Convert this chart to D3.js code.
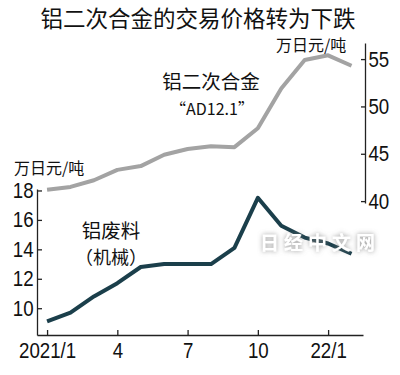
<!DOCTYPE html>
<html>
<head>
<meta charset="utf-8">
<script src="https://cdn.jsdelivr.net/npm/d3@7"></script>
<style>
	body { margin: 0; background: #fff; }
	.cjk { font-family: "Noto Sans CJK SC", "Noto Sans", sans-serif; fill: #111; }
	.axis text { font-family: "Liberation Sans", sans-serif; font-size: 22px; fill: #111; }
	.axis path, .axis line { stroke: #222; stroke-width: 1.3; }
</style>
</head>
<body>
<svg id="chart" width="400" height="375"></svg>
<script>
//months from 2021/1 to 2022/2
var months = ["2021/1","2021/2","2021/3","2021/4","2021/5","2021/6","2021/7","2021/8","2021/9","2021/10","2021/11","2021/12","2022/1","2022/2"];
//secondary aluminium alloy AD12.1 (right axis, 10k yen / t)
var alloyValues = [41.2, 41.5, 42.2, 43.3, 43.7, 44.9, 45.5, 45.8, 45.7, 47.7, 51.9, 54.9, 55.4, 54.3];
//aluminium scrap (left axis, 10k yen / t)
var scrapValues = [9.1, 9.7, 10.8, 11.7, 12.8, 13.0, 13.0, 13.0, 14.1, 17.5, 15.6, 14.8, 14.4, 13.7];
//ticks
var xTickIdx = [0, 3, 6, 9, 12];
var xTickLabels = ["2021/1", "4", "7", "10", "22/1"];
var leftTicks = [10, 12, 14, 16, 18];
var rightTicks = [40, 45, 50, 55];

var svg = d3.select("#chart");

//scales
var x = d3.scaleLinear().domain([-0.43, 13.49]).range([37, 363]);
var yL = d3.scaleLinear().domain([8.18, 18.1]).range([335, 189]);
var yR = d3.scaleLinear().domain([39.8, 56.7]).range([203, 43]);

//narrow the tick digits like the original condensed face
function condense(g) {
	g.selectAll(".tick text").attr("transform", "scale(0.85,1)");
}

//axes
svg.append("g").attr("class", "axis")
	.attr("transform", "translate(37,0)")
	.call(d3.axisLeft(yL).tickValues(leftTicks).tickSizeInner(-5).tickSizeOuter(0).tickPadding(4))
	.call(condense);

svg.append("g").attr("class", "axis")
	.attr("transform", "translate(365,0)")
	.call(d3.axisRight(yR).tickValues(rightTicks).tickSizeInner(-4).tickSizeOuter(0).tickPadding(4))
	.call(condense);

svg.append("g").attr("class", "axis")
	.attr("transform", "translate(0,335)")
	.call(d3.axisBottom(x).tickValues(xTickIdx).tickSizeInner(-5).tickSizeOuter(0).tickPadding(7)
		.tickFormat(function(d, i) { return xTickLabels[i]; }))
	.call(condense);

//lines
var alloyLine = d3.line().x(function(d, i) { return x(i); }).y(function(d) { return yR(d); });
var scrapLine = d3.line().x(function(d, i) { return x(i); }).y(function(d) { return yL(d); });

svg.append("path").datum(alloyValues)
	.attr("d", alloyLine)
	.attr("fill", "none").attr("stroke", "#a3a3a3").attr("stroke-width", 4).attr("stroke-linejoin", "round");

svg.append("path").datum(scrapValues)
	.attr("d", scrapLine)
	.attr("fill", "none").attr("stroke", "#1b3f4b").attr("stroke-width", 4).attr("stroke-linejoin", "round");

//texts
function addText(txt, px, py, size, anchor) {
	return svg.append("text").attr("class", "cjk")
		.attr("x", px).attr("y", py)
		.attr("font-size", size)
		.attr("text-anchor", anchor || "start")
		.text(txt);
}
addText("铝二次合金的交易价格转为下跌", 198, 27, 22.5, "middle");
addText("万日元/吨", 276, 51, 16);
addText("万日元/吨", 14, 174, 16);
addText("铝二次合金", 211, 89, 19.5, "middle");
addText("“AD12.1”", 212, 115, 16, "middle");
addText("铝废料", 111, 238, 19.5, "middle");
addText("（机械）", 111, 264, 18, "middle");

//watermark
var defs = svg.append("defs");
var f = defs.append("filter").attr("id", "wm").attr("x", "-20%").attr("y", "-40%").attr("width", "140%").attr("height", "180%");
f.append("feGaussianBlur").attr("in", "SourceAlpha").attr("stdDeviation", 2.5).attr("result", "b");
f.append("feFlood").attr("flood-color", "#777").attr("flood-opacity", 0.8);
f.append("feComposite").attr("in2", "b").attr("operator", "in").attr("result", "s");
var m = f.append("feMerge");
m.append("feMergeNode").attr("in", "s");
m.append("feMergeNode").attr("in", "SourceGraphic");

svg.append("text").attr("class", "cjk")
	.attr("x", 320).attr("y", 250)
	.attr("font-size", 19).attr("font-weight", "bold")
	.attr("text-anchor", "middle")
	.attr("letter-spacing", 5)
	.style("fill", "#fff")
	.attr("filter", "url(#wm)")
	.text("日经中文网");
</script>
</body>
</html>
